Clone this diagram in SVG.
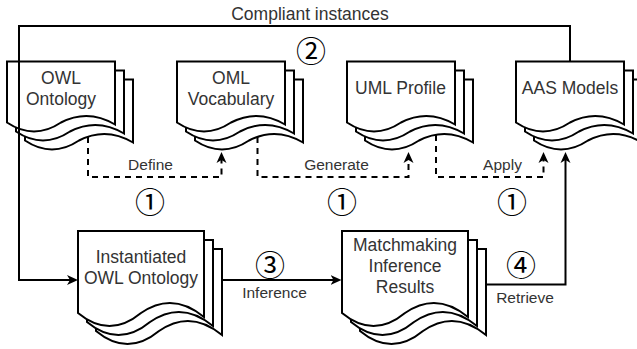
<svg xmlns="http://www.w3.org/2000/svg" xmlns:xlink="http://www.w3.org/1999/xlink" width="637" height="349" viewBox="0 0 637 349">
  <style>
    .pg { fill: #ffffff; stroke: #000000; stroke-width: 2; }
    .lbl { font-family: "Liberation Sans", Arial, sans-serif; font-size: 17.5px; fill: #333333; text-anchor: middle; }
    .elbl { font-family: "Liberation Sans", Arial, sans-serif; font-size: 15.5px; fill: #333333; text-anchor: middle; }
    .num { font-family: "Noto Sans CJK SC", "DejaVu Sans", sans-serif; font-size: 30px; fill: #000000; text-anchor: middle; dominant-baseline: central; }
    .ln { fill: none; stroke: #000000; stroke-width: 2; }
    .dash { fill: none; stroke: #000000; stroke-width: 2; stroke-dasharray: 6 5; }
  </style>
  <defs>
    <path id="pgTop" d="M0,0 H108 V63 Q81,47 54,61 Q27,79 0,61 Z"/>
    <path id="pgLow" d="M0,0 H126 V86 Q94.5,60 63,82 Q31.5,108 0,82 Z"/>
    <marker id="arr" markerUnits="userSpaceOnUse" markerWidth="12" markerHeight="12" viewBox="0 0 12 10" refX="6" refY="5" orient="auto">
      <path d="M0,0 L11,5 L0,10 L3,5 Z" fill="#000000" stroke="none"/>
    </marker>
  </defs>

  <g id="node-owl-ontology">
    <use xlink:href="#pgTop" href="#pgTop" class="pg" x="25" y="79.5"/>
    <use xlink:href="#pgTop" href="#pgTop" class="pg" x="16" y="70.5"/>
    <use xlink:href="#pgTop" href="#pgTop" class="pg" x="7" y="61.5"/>
    <text class="lbl" x="61" y="83.5">OWL</text>
    <text class="lbl" x="61" y="104.5">Ontology</text>
  </g>

  <g id="node-oml-vocabulary">
    <use xlink:href="#pgTop" href="#pgTop" class="pg" x="195" y="79.5"/>
    <use xlink:href="#pgTop" href="#pgTop" class="pg" x="186" y="70.5"/>
    <use xlink:href="#pgTop" href="#pgTop" class="pg" x="177" y="61.5"/>
    <text class="lbl" x="231" y="83.5">OML</text>
    <text class="lbl" x="231" y="104.5">Vocabulary</text>
  </g>

  <g id="node-uml-profile">
    <use xlink:href="#pgTop" href="#pgTop" class="pg" x="365" y="79.5"/>
    <use xlink:href="#pgTop" href="#pgTop" class="pg" x="356" y="70.5"/>
    <use xlink:href="#pgTop" href="#pgTop" class="pg" x="347" y="61.5"/>
    <text class="lbl" x="400.5" y="93.5">UML Profile</text>
  </g>

  <g id="node-aas-models">
    <use xlink:href="#pgTop" href="#pgTop" class="pg" x="534" y="79.5"/>
    <use xlink:href="#pgTop" href="#pgTop" class="pg" x="525" y="70.5"/>
    <use xlink:href="#pgTop" href="#pgTop" class="pg" x="516" y="61.5"/>
    <text class="lbl" x="570" y="93.5">AAS Models</text>
  </g>

  <g id="node-instantiated-owl-ontology">
    <use xlink:href="#pgLow" href="#pgLow" class="pg" x="96" y="249"/>
    <use xlink:href="#pgLow" href="#pgLow" class="pg" x="87" y="240"/>
    <use xlink:href="#pgLow" href="#pgLow" class="pg" x="78" y="231"/>
    <text class="lbl" x="141" y="262.5">Instantiated</text>
    <text class="lbl" x="141" y="283.5">OWL Ontology</text>
  </g>

  <g id="node-matchmaking-inference-results">
    <use xlink:href="#pgLow" href="#pgLow" class="pg" x="360" y="249"/>
    <use xlink:href="#pgLow" href="#pgLow" class="pg" x="351" y="240"/>
    <use xlink:href="#pgLow" href="#pgLow" class="pg" x="342" y="231"/>
    <text class="lbl" x="405" y="250.5">Matchmaking</text>
    <text class="lbl" x="405" y="271.5">Inference</text>
    <text class="lbl" x="405" y="292.5">Results</text>
  </g>

  <g id="connectors">
    <path class="dash" d="M88,137 V177 H221.5 V157" marker-end="url(#arr)"/>
    <path class="dash" d="M257.5,137 V177 H408.5 V157" marker-end="url(#arr)"/>
    <path class="dash" d="M436,135 V177 H543.5 V157" marker-end="url(#arr)"/>
    <path class="ln" d="M570,61.5 V26 H19 V280 H73" marker-end="url(#arr)"/>
    <path class="ln" d="M222,280 H336.5" marker-end="url(#arr)"/>
    <path class="ln" d="M486,284.5 H565.5 V157" marker-end="url(#arr)"/>

    <text class="lbl" x="310" y="19.5">Compliant instances</text>
    <text class="elbl" x="150.5" y="170">Define</text>
    <text class="elbl" x="336.5" y="170">Generate</text>
    <text class="elbl" x="502.5" y="170">Apply</text>
    <text class="elbl" x="274.5" y="298">Inference</text>
    <text class="elbl" x="525" y="303">Retrieve</text>

    <text class="num" x="311" y="49">②</text>
    <text class="num" x="150" y="200">①</text>
    <text class="num" x="342" y="200">①</text>
    <text class="num" x="512" y="200">①</text>
    <text class="num" x="270" y="263">③</text>
    <text class="num" x="521" y="263">④</text>
  </g>
</svg>
